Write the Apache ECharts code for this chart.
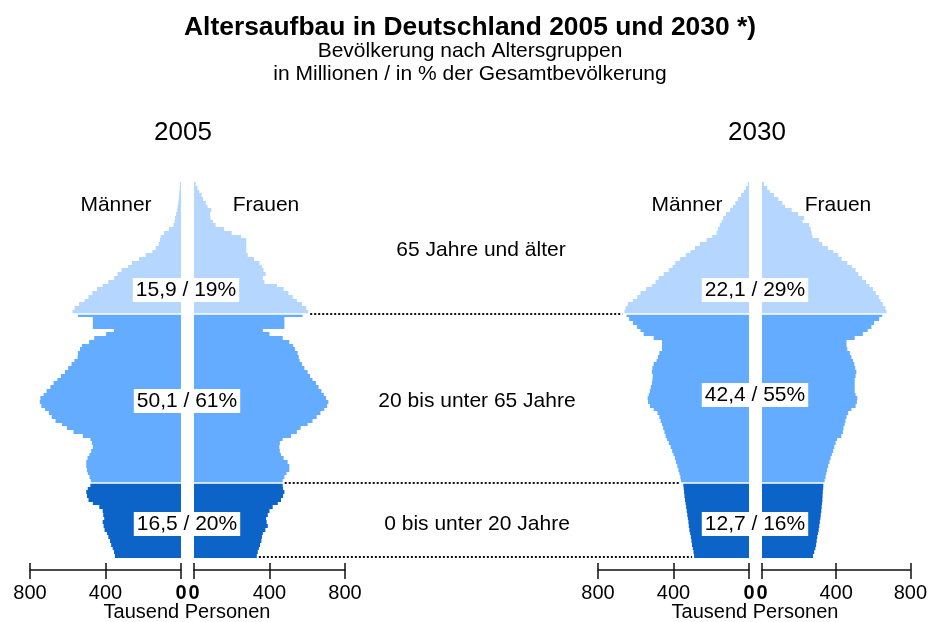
<!DOCTYPE html>
<html>
<head>
<meta charset="utf-8">
<title>Altersaufbau in Deutschland 2005 und 2030</title>
<script src="https://cdn.jsdelivr.net/npm/echarts@6/dist/echarts.min.js"></script>
<style>
  * { margin: 0; padding: 0; }
  #main { width: 930px; height: 622px; }
</style>
</head>
<body>
<div id="main"></div>
<script>
  // Alter 0 .. 99 (ein Balken je Altersjahr)
  let ages = [];
  for (let i = 0; i < 100; i++) ages.push(String(i));

  // Tausend Personen je Altersjahr
  let men2005 = [
    350, 355, 362, 370, 376, 385, 392, 405, 410, 415,
    407, 412, 415, 433, 467, 490, 498, 502, 494, 480,
    478, 485, 494, 498, 502, 502, 495, 485, 476, 467,
    472, 480, 520, 570, 605, 630, 665, 685, 700, 720,
    740, 748, 745, 728, 712, 692, 675, 655, 636, 615,
    598, 580, 565, 548, 546, 535, 525, 487, 460, 397,
    355, 467, 467, 467, 546, 575, 564, 540, 511, 490,
    470, 445, 415, 385, 354, 336, 315, 280, 260, 222,
    187, 152, 134, 118, 111, 108, 90, 64, 40, 34,
    32, 26, 20, 18, 15, 12, 10, 8, 7, 5
  ];
  let women2005 = [
    333, 338, 344, 350, 357, 360, 365, 378, 391, 385,
    382, 391, 400, 417, 444, 461, 472, 479, 472, 470,
    470, 479, 490, 505, 505, 496, 475, 461, 455, 452,
    455, 470, 514, 545, 565, 602, 628, 650, 670, 690,
    705, 712, 700, 688, 675, 660, 646, 628, 615, 602,
    585, 572, 560, 555, 549, 535, 525, 505, 470, 400,
    365, 479, 479, 479, 575, 605, 595, 572, 545, 523,
    500, 475, 440, 373, 365, 380, 368, 360, 347, 318,
    285, 277, 277, 277, 277, 250, 200, 160, 115, 100,
    88, 85, 92, 72, 62, 48, 40, 28, 18, 8
  ];
  let men2030 = [
    291, 294, 298, 302, 305, 308, 312, 316, 319, 321,
    324, 327, 330, 333, 336, 339, 342, 344, 346, 348,
    360, 364, 369, 374, 380, 387, 393, 400, 407, 415,
    425, 435, 442, 448, 455, 461, 468, 475, 485, 505,
    525, 535, 537, 531, 525, 520, 514, 512, 510, 514,
    512, 505, 490, 482, 475, 461, 461, 461, 505, 558,
    575, 593, 615, 635, 649, 660, 654, 642, 615, 592,
    575, 545, 515, 495, 479, 452, 425, 405, 391, 365,
    335, 310, 286, 260, 225, 195, 172, 165, 155, 145,
    137, 122, 100, 85, 72, 58, 42, 28, 17, 6
  ];
  let women2030 = [
    275, 282, 288, 292, 295, 298, 302, 306, 309, 312,
    315, 317, 320, 322, 324, 326, 327, 328, 330, 331,
    338, 343, 347, 351, 357, 364, 370, 377, 384, 390,
    397, 405, 428, 436, 440, 446, 450, 456, 465, 482,
    505, 512, 514, 505, 500, 500, 500, 500, 505, 509,
    503, 498, 491, 482, 474, 460, 456, 456, 500, 544,
    570, 590, 605, 632, 649, 672, 665, 652, 640, 630,
    614, 598, 580, 561, 540, 520, 505, 485, 460, 430,
    412, 385, 355, 325, 307, 272, 268, 263, 254, 219,
    228, 195, 160, 125, 110, 88, 65, 42, 28, 10
  ];

  // Altersgruppen: Beginn je Gruppe
  let groupStart = [0, 20, 65];
  let groupNames = ['0 bis unter 20 Jahre', '20 bis unter 65 Jahre', '65 Jahre und älter'];
  let labels2005 = ['16,5 / 20%', '50,1 / 61%', '15,9 / 19%'];
  let labels2030 = ['12,7 / 16%', '42,4 / 55%', '22,1 / 29%'];
  let axisMax = 800;
  let axisStep = 400;

  let FONT = "'Liberation Sans', Arial, sans-serif";
  let colors = ['#0d64c8', '#63acff', '#b4d6ff'];

  function ageColor(i) {
    return i < groupStart[1] ? colors[0] : i < groupStart[2] ? colors[1] : colors[2];
  }

  // Balken als Rechtecke auf ganze Pixel, damit keine hellen Fugen entstehen
  function renderBar(params, api) {
    let idx = api.value(1);
    let p0 = api.coord([0, idx]);
    let p1 = api.coord([api.value(0), idx]);
    let h = api.size([0, 1])[1];
    let y0 = Math.round(p0[1] - h / 2);
    let y1 = Math.round(p0[1] + h / 2);
    let x0 = Math.min(p0[0], p1[0]);
    return {
      type: 'rect',
      shape: { x: x0, y: y0, width: Math.abs(p1[0] - p0[0]), height: y1 - y0 },
      style: { fill: ageColor(params.dataIndex) }
    };
  }

  let panels = [
    { left: 30, data: men2005, inverse: true },
    { left: 194, data: women2005, inverse: false },
    { left: 598, data: men2030, inverse: true },
    { left: 762, data: women2030, inverse: false }
  ];

  let grids = [], xAxes = [], yAxes = [], series = [];
  panels.forEach(function (p, i) {
    grids.push({ left: p.left, top: 182, width: 151, height: 376 });
    // untere Achse mit Beschriftung
    xAxes.push({
      type: 'value', gridIndex: i, min: 0, max: axisMax, interval: axisStep,
      inverse: p.inverse, position: 'bottom', offset: 12,
      axisLine: { show: true, lineStyle: { color: '#111', width: 1.5 } },
      axisTick: { show: true, length: 9, lineStyle: { color: '#111', width: 1.5 } },
      axisLabel: {
        margin: 13, fontSize: 20, color: '#000', fontFamily: FONT,
        formatter: function (v) { return v === 0 ? '{b|0}' : String(v); },
        rich: { b: { fontWeight: 'bold', fontSize: 20, color: '#000', fontFamily: FONT } }
      },
      splitLine: { show: false }
    });
    // nur fuer den oberen Teil der Striche
    xAxes.push({
      type: 'value', gridIndex: i, min: 0, max: axisMax, interval: axisStep,
      inverse: p.inverse, position: 'top', offset: -388,
      axisLine: { show: false },
      axisTick: { show: true, length: 7, lineStyle: { color: '#111', width: 1.5 } },
      axisLabel: { show: false },
      splitLine: { show: false }
    });
    yAxes.push({ type: 'category', gridIndex: i, data: ages, show: false });
    series.push({
      type: 'custom', xAxisIndex: 2 * i, yAxisIndex: i, silent: true,
      renderItem: renderBar,
      encode: { x: 0, y: 1 },
      data: p.data.map(function (v, k) { return [v, k]; })
    });
  });

  function txt(x, y, s, size, bold, bg) {
    let st = {
      text: s, x: x, y: y, fill: '#000', align: 'center', verticalAlign: 'middle',
      font: (bold ? 'bold ' : '') + size + 'px ' + FONT
    };
    if (bg) { st.backgroundColor = '#fff'; st.padding = [2, 3, 1, 3]; }
    return { type: 'text', z: 100, style: st };
  }

  let chart = echarts.init(document.getElementById('main'));
  chart.setOption({
    animation: false,
    grid: grids,
    xAxis: xAxes,
    yAxis: yAxes,
    series: series
  });

  // Linien zwischen den Gruppen, aus den Achsen berechnet
  function rowY(i, age) { return chart.convertToPixel({ yAxisIndex: i }, ages[age]); }
  let band = rowY(0, 0) - rowY(0, 1);
  let g = [];
  [groupStart[1], groupStart[2]].forEach(function (a) {
    let y = Math.round((rowY(0, a - 1) + rowY(0, a)) / 2);
    // weisse Trennlinien in den Pyramiden
    panels.forEach(function (p, i) {
      let x0 = chart.convertToPixel({ xAxisIndex: 2 * i }, 0);
      let x1 = chart.convertToPixel({ xAxisIndex: 2 * i }, axisMax);
      g.push({ type: 'line', z: 50, shape: { x1: Math.min(x0, x1), y1: y, x2: Math.max(x0, x1), y2: y },
        style: { stroke: '#fff', lineWidth: 1.5 } });
    });
  });
  [0, groupStart[1], groupStart[2]].forEach(function (a) {
    let y = a === 0 ? rowY(0, 0) + band / 2 - 1 : (rowY(0, a - 1) + rowY(0, a)) / 2;
    let wv = a === 0 ? women2005[0] : Math.max(women2005[a - 1], women2005[a]);
    let mv = a === 0 ? men2030[0] : Math.max(men2030[a - 1], men2030[a]);
    let xs = chart.convertToPixel({ xAxisIndex: 2 }, wv) + 2;
    let xe = chart.convertToPixel({ xAxisIndex: 4 }, mv) - 2;
    g.push({ type: 'line', z: 50, shape: { x1: xs, y1: Math.round(y), x2: xe, y2: Math.round(y) },
      style: { stroke: '#111', lineWidth: 2, lineDash: [2, 2] } });
  });

  g.push(txt(470, 28, 'Altersaufbau in Deutschland 2005 und 2030 *)', 26.4, true));
  g.push(txt(470, 51, 'Bevölkerung nach Altersgruppen', 21));
  g.push(txt(470, 74, 'in Millionen / in % der Gesamtbevölkerung', 21));
  g.push(txt(183, 133, '2005', 26));
  g.push(txt(757, 133, '2030', 26));
  g.push(txt(116, 205, 'Männer', 21));
  g.push(txt(266, 205, 'Frauen', 21));
  g.push(txt(687, 205, 'Männer', 21));
  g.push(txt(838, 205, 'Frauen', 21));
  g.push(txt(477, 524, groupNames[0], 21));
  g.push(txt(477, 401, groupNames[1], 21));
  g.push(txt(481, 250, groupNames[2], 21));
  g.push(txt(187, 524, labels2005[0], 21, false, true));
  g.push(txt(187, 401, labels2005[1], 21, false, true));
  g.push(txt(186, 290, labels2005[2], 21, false, true));
  g.push(txt(755, 524, labels2030[0], 21, false, true));
  g.push(txt(755, 395, labels2030[1], 21, false, true));
  g.push(txt(755, 290, labels2030[2], 21, false, true));
  g.push(txt(187, 612, 'Tausend Personen', 20));
  g.push(txt(755, 612, 'Tausend Personen', 20));

  chart.setOption({ graphic: g });
</script>
</body>
</html>
